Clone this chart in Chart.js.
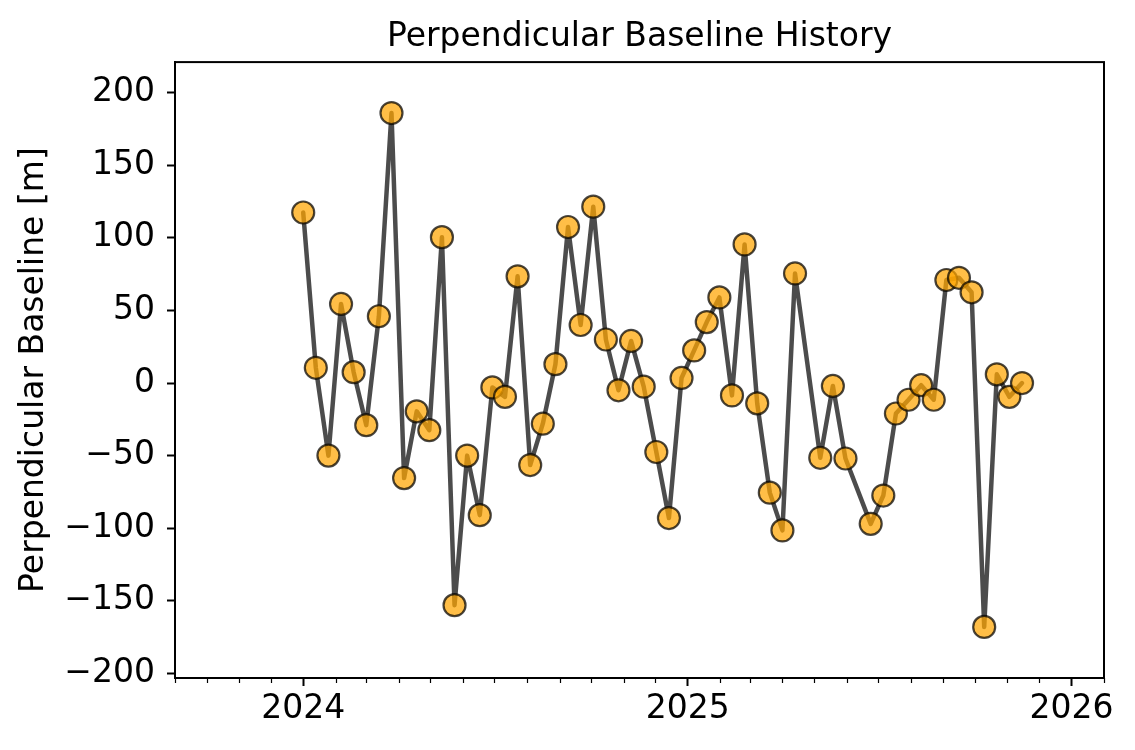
<!DOCTYPE html>
<html>
<head>
<meta charset="utf-8">
<script src="https://cdn.jsdelivr.net/npm/chart.js@4.4.1/dist/chart.umd.min.js"></script>
<style>
  html, body { margin: 0; padding: 0; background: #fff; }
</style>
</head>
<body>
<canvas id="baseline" width="1135" height="750"></canvas>
<script>
// acquisition dates (12-day repeat, two gaps) and perpendicular baseline in metres
const dates = [
  '2024-01-01', '2024-01-13', '2024-01-25', '2024-02-06', '2024-02-18', '2024-03-01',
  '2024-03-13', '2024-03-25', '2024-04-06', '2024-04-18', '2024-04-30', '2024-05-12',
  '2024-05-24', '2024-06-05', '2024-06-17', '2024-06-29', '2024-07-11', '2024-07-23',
  '2024-08-04', '2024-08-16', '2024-08-28', '2024-09-09', '2024-09-21', '2024-10-03',
  '2024-10-15', '2024-10-27', '2024-11-08', '2024-11-20', '2024-12-02', '2024-12-14',
  '2024-12-26', '2025-01-07', '2025-01-19', '2025-01-31', '2025-02-12', '2025-02-24',
  '2025-03-08', '2025-03-20', '2025-04-01', '2025-04-13', '2025-05-07', '2025-05-19',
  '2025-05-31', '2025-06-24', '2025-07-06', '2025-07-18', '2025-07-30', '2025-08-11',
  '2025-08-23', '2025-09-04', '2025-09-16', '2025-09-28', '2025-10-10', '2025-10-22',
  '2025-11-03', '2025-11-15'
];
const baselines = [
  117.5, 10.5, -50, 54.5, 7.5, -29,
  46, 186, -65.5, -19.5, -32.5, 100.5,
  -153, -50, -91, -3, -9.5, 73.5,
  -56.5, -28, 13, 107.5, 40, 121.5,
  30, -5, 29, -2.5, -47.5, -93,
  3.5, 22.5, 42, 59, -8.5, 95.5,
  -14, -75.5, -101.5, 75.5, -51.5, -2,
  -52, -97, -77.5, -21, -11.5, -1.5,
  -11.5, 71, 72.5, 62.5, -168, 6,
  -9.5, 0
];
const yearTicks = ['2024-01-01', '2025-01-01', '2026-01-01'];
const yTicks = [-200, -150, -100, -50, 0, 50, 100, 150, 200];
const xRange = ['2023-09-01', '2026-02-01'];
const yRange = [-203.2, 221.1];

const ms = s => Date.parse(s + 'T00:00:00Z');
const points = dates.map((d, i) => ({ x: ms(d), y: baselines[i] }));
const FONT = 'DejaVu Sans';

// black box round the plot and short monthly minor ticks
const framePlugin = {
  id: 'frame',
  afterDraw(chart) {
    const { ctx, chartArea: a } = chart;
    const xs = chart.scales.x;
    ctx.save();
    ctx.strokeStyle = '#000';
    ctx.lineWidth = 1.2;
    const start = new Date(ms(xRange[0]));
    const end = ms(xRange[1]);
    for (let y = start.getUTCFullYear(), m = start.getUTCMonth(); ; m++) {
      const t = Date.UTC(y, m, 1);
      if (t > end) break;
      if (new Date(t).getUTCMonth() === 0) continue;
      const px = Math.round(xs.getPixelForValue(t)) + 0.5;
      ctx.beginPath();
      ctx.moveTo(px, a.bottom);
      ctx.lineTo(px, a.bottom + 5);
      ctx.stroke();
    }
    ctx.lineWidth = 2;
    ctx.strokeRect(a.left, a.top, a.right - a.left, a.bottom - a.top);
    ctx.restore();
  }
};

new Chart(document.getElementById('baseline'), {
  type: 'line',
  data: {
    datasets: [{
      data: points,
      borderColor: 'rgba(0,0,0,0.7)',
      borderWidth: 4.5,
      borderJoinStyle: 'round',
      borderCapStyle: 'round',
      tension: 0,
      pointRadius: 11,
      pointHoverRadius: 11,
      pointBackgroundColor: 'rgba(255,165,0,0.72)',
      pointBorderColor: 'rgba(0,0,0,0.72)',
      pointBorderWidth: 2.2
    }]
  },
  options: {
    responsive: false,
    animation: false,
    devicePixelRatio: 1,
    layout: { padding: { left: 0, right: 31, top: 0, bottom: 0 } },
    plugins: {
      legend: { display: false },
      tooltip: { enabled: false },
      title: {
        display: true,
        fullSize: false,
        text: 'Perpendicular Baseline History',
        color: '#000',
        font: { family: FONT, size: 33, weight: 'normal' },
        padding: { top: 18, bottom: 4.5 }
      }
    },
    scales: {
      x: {
        type: 'linear',
        min: ms(xRange[0]),
        max: ms(xRange[1]),
        afterBuildTicks: s => { s.ticks = yearTicks.map(d => ({ value: ms(d) })); },
        afterFit: s => { s.height = 72; },
        ticks: {
          color: '#000',
          font: { family: FONT, size: 33 },
          padding: 4,
          maxRotation: 0,
          autoSkip: false,
          callback: v => String(new Date(v).getUTCFullYear())
        },
        grid: { drawOnChartArea: false, color: '#000', tickLength: 8, tickWidth: 2 },
        border: { display: true, color: '#000', width: 2 }
      },
      y: {
        min: yRange[0],
        max: yRange[1],
        afterBuildTicks: s => { s.ticks = yTicks.map(v => ({ value: v })); },
        afterFit: s => { s.width = 175; },
        ticks: {
          color: '#000',
          font: { family: FONT, size: 33 },
          padding: 12,
          callback: v => (v < 0 ? '\u2212' + Math.abs(v) : String(v))
        },
        title: {
          display: true,
          text: 'Perpendicular Baseline [m]',
          color: '#000',
          font: { family: FONT, size: 33 },
          padding: { top: 15, bottom: 0 }
        },
        grid: { drawOnChartArea: false, color: '#000', tickLength: 8, tickWidth: 2 },
        border: { display: true, color: '#000', width: 2 }
      }
    }
  },
  plugins: [framePlugin]
});
</script>
</body>
</html>
